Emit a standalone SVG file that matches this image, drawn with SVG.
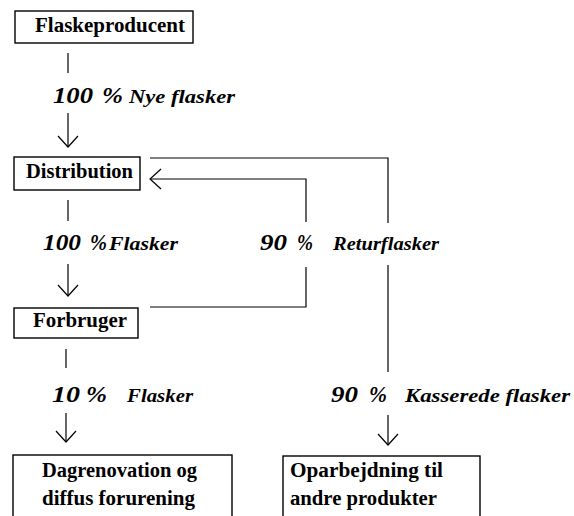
<svg xmlns="http://www.w3.org/2000/svg" width="574" height="516" viewBox="0 0 574 516">
<style>
.box{fill:#fff;stroke:#000;stroke-width:1.4}
.bt{font-family:"Liberation Serif","Times New Roman",serif;font-weight:bold;font-size:20.5px;fill:#000}
.pct{font-family:"Liberation Serif","Times New Roman",serif;font-style:italic;font-weight:bold;font-size:23px;fill:#000}
.lb{font-family:"Liberation Serif","Times New Roman",serif;font-style:italic;font-weight:bold;font-size:19px;fill:#000}
.ln{fill:none;stroke:#000;stroke-width:1.2}
</style>
<defs>
<marker id="ah" markerUnits="userSpaceOnUse" markerWidth="24" markerHeight="24" refX="12" refY="12" orient="auto" viewBox="0 0 24 24">
<path d="M1,2 L12,12 L1,22" fill="none" stroke="#000" stroke-width="1.2"/>
</marker>
</defs>
<rect width="574" height="516" fill="#fff"/>
<g id="connectors">
<line class="ln" x1="68" y1="53" x2="68" y2="73"/>
<line class="ln" x1="68" y1="113" x2="68" y2="147" marker-end="url(#ah)"/>
<line class="ln" x1="68" y1="200" x2="68" y2="221"/>
<line class="ln" x1="68" y1="264" x2="68" y2="296" marker-end="url(#ah)"/>
<line class="ln" x1="66" y1="349" x2="66" y2="368"/>
<line class="ln" x1="66" y1="413" x2="66" y2="442" marker-end="url(#ah)"/>
<polyline class="ln" points="150,158 388,158 388,223"/>
<line class="ln" x1="388" y1="265" x2="388" y2="372"/>
<line class="ln" x1="388" y1="415" x2="388" y2="445" marker-end="url(#ah)"/>
<polyline class="ln" points="306,222 306,179 150,179" marker-end="url(#ah)"/>
<polyline class="ln" points="306,267 306,307 150,307"/>
</g>
<g id="flaskeproducent">
<rect class="box" x="15" y="11" width="178" height="32"/>
<text class="bt" x="35" y="32" textLength="150" lengthAdjust="spacingAndGlyphs">Flaskeproducent</text>
</g>
<g id="distribution">
<rect class="box" x="14" y="157" width="126" height="33"/>
<text class="bt" x="26" y="178" textLength="107" lengthAdjust="spacingAndGlyphs">Distribution</text>
</g>
<g id="forbruger">
<rect class="box" x="14" y="308" width="124" height="30"/>
<text class="bt" x="33" y="327" textLength="94" lengthAdjust="spacingAndGlyphs">Forbruger</text>
</g>
<g id="dagrenovation">
<rect class="box" x="13" y="455" width="219" height="70"/>
<text class="bt" x="42" y="477" textLength="155" lengthAdjust="spacingAndGlyphs">Dagrenovation og</text>
<text class="bt" x="42" y="505" textLength="153" lengthAdjust="spacingAndGlyphs">diffus forurening</text>
</g>
<g id="oparbejdning">
<rect class="box" x="283" y="456" width="197" height="70"/>
<text class="bt" x="290" y="477" textLength="153" lengthAdjust="spacingAndGlyphs">Oparbejdning til</text>
<text class="bt" x="290" y="505" textLength="147" lengthAdjust="spacingAndGlyphs">andre produkter</text>
</g>
<g id="labels">
<text class="pct" x="53" y="103" textLength="40" lengthAdjust="spacingAndGlyphs">100</text>
<text class="pct" x="102" y="103" textLength="21" lengthAdjust="spacingAndGlyphs">%</text>
<text class="lb" x="129" y="103" textLength="106" lengthAdjust="spacingAndGlyphs">Nye flasker</text>
<text class="pct" x="43" y="250" textLength="38" lengthAdjust="spacingAndGlyphs">100</text>
<text class="pct" x="90" y="250" textLength="17" lengthAdjust="spacingAndGlyphs">%</text>
<text class="lb" x="109" y="250" textLength="69" lengthAdjust="spacingAndGlyphs">Flasker</text>
<text class="pct" x="260" y="250" textLength="27" lengthAdjust="spacingAndGlyphs">90</text>
<text class="pct" x="297" y="250" textLength="16" lengthAdjust="spacingAndGlyphs">%</text>
<text class="lb" x="333" y="250" textLength="106" lengthAdjust="spacingAndGlyphs">Returflasker</text>
<text class="pct" x="52" y="402" textLength="28" lengthAdjust="spacingAndGlyphs">10</text>
<text class="pct" x="86" y="402" textLength="21" lengthAdjust="spacingAndGlyphs">%</text>
<text class="lb" x="127" y="402" textLength="66" lengthAdjust="spacingAndGlyphs">Flasker</text>
<text class="pct" x="331" y="402" textLength="27" lengthAdjust="spacingAndGlyphs">90</text>
<text class="pct" x="369" y="402" textLength="18" lengthAdjust="spacingAndGlyphs">%</text>
<text class="lb" x="405" y="402" textLength="165" lengthAdjust="spacingAndGlyphs">Kasserede flasker</text>
</g>
</svg>
